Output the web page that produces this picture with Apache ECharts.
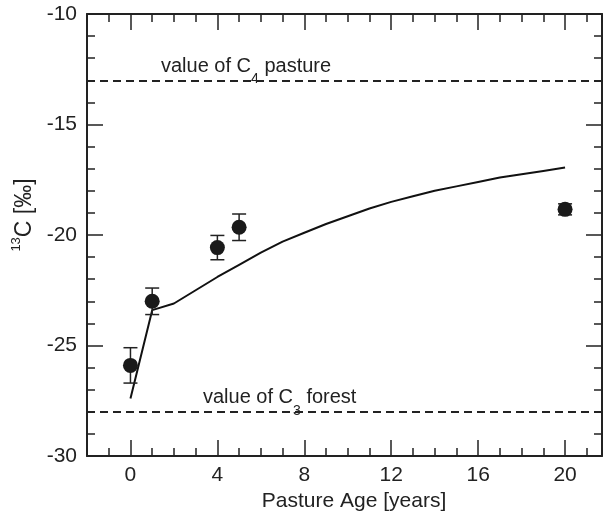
<!DOCTYPE html>
<html><head><meta charset="utf-8">
<script src="https://cdn.jsdelivr.net/npm/echarts@6/dist/echarts.min.js"></script>
<style>html,body{margin:0;padding:0;background:#fff}#c{width:607px;height:516px}</style>
</head><body><div id="c"></div>
<script>
// ---- data ----
const pointAges   = [0, 1, 4, 5, 20];
const pointMeans  = [-25.9, -23.0, -20.57, -19.65, -18.84];
const pointErrors = [0.8, 0.6, 0.55, 0.6, 0.25];

const curveAges   = [0, 1, 2, 3, 4, 5, 6, 7, 8, 9, 10, 11, 12, 13, 14, 15, 16, 17, 18, 19, 20];
const curveValues = [-27.4, -23.4, -23.1, -22.5, -21.9, -21.35, -20.8, -20.3, -19.9, -19.5, -19.15,
                     -18.8, -18.5, -18.25, -18.0, -17.8, -17.6, -17.4, -17.25, -17.1, -16.95];

const c4Pasture = -13;
const c3Forest  = -28;

const xMajorTicks = [0, 4, 8, 12, 16, 20];
const xMin = -2, xMax = 21.7;
const yMin = -30, yMax = -10;

// ---- styling ----
const FONT = 'Liberation Sans, Arial, Helvetica, sans-serif';
const INK = '#222';
const chart = echarts.init(document.getElementById('c'), null, {renderer: 'canvas'});

function xAx(pos, major, withLabel) {
  const ax = {
    type: 'value', position: pos, min: xMin, max: xMax, interval: 1,
    splitLine: {show: false},
    axisLine: {show: !major, onZero: false, lineStyle: {color: INK, width: 2}},
    axisTick: {show: true, inside: true, length: major ? 16 : 8, lineStyle: {color: INK, width: 1.5}},
    axisLabel: {show: false}
  };
  if (major) ax.axisTick.customValues = xMajorTicks;
  if (withLabel) {
    ax.axisLabel = {show: true, customValues: xMajorTicks, fontSize: 21, color: INK, margin: 9, fontFamily: FONT};
    ax.name = 'Pasture Age [years]';
    ax.nameLocation = 'middle';
    ax.nameGap = 26;
    ax.nameTextStyle = {fontSize: 21, color: INK, fontFamily: FONT, padding: [0, 0, 0, 19]};
  }
  return ax;
}
function yAx(pos, withLabel) {
  const ax = {
    type: 'value', position: pos, min: yMin, max: yMax, interval: 5,
    splitLine: {show: false},
    axisLine: {show: true, onZero: false, lineStyle: {color: INK, width: 2}},
    axisTick: {show: true, inside: true, length: 16, lineStyle: {color: INK, width: 1.5}},
    minorTick: {show: true, splitNumber: 5, length: 8, lineStyle: {color: INK, width: 1.5}},
    axisLabel: {show: withLabel, fontSize: 21, color: INK, margin: 10, fontFamily: FONT}
  };
  if (withLabel) {
    ax.name = '{sup|13}{n|C [‰]}';
    ax.nameLocation = 'middle';
    ax.nameRotate = 90;
    ax.nameGap = 47;
    ax.nameTextStyle = {
      color: INK, fontFamily: FONT, padding: [0, 0, 0, 40],
      rich: {
        sup: {fontSize: 13, color: INK, fontFamily: FONT, verticalAlign: 'top', lineHeight: 14},
        n: {fontSize: 23, color: INK, fontFamily: FONT, lineHeight: 28}
      }
    };
  }
  return ax;
}

const labelRich = {
  t: {fontSize: 20, color: INK, fontFamily: FONT, lineHeight: 24},
  s: {fontSize: 14, color: INK, fontFamily: FONT, lineHeight: 14, padding: [26, 0, 0, 0]}
};

chart.setOption({
  animation: false,
  backgroundColor: '#fff',
  grid: {left: 87, right: 5, top: 14, bottom: 60, containLabel: false, outerBoundsMode: 'none'},
  xAxis: [xAx('bottom', false, true), xAx('bottom', true, false), xAx('top', false, false), xAx('top', true, false)],
  yAxis: [yAx('left', true), yAx('right', false)],
  series: [
    {
      type: 'line', xAxisIndex: 0, yAxisIndex: 0,
      data: curveAges.map((a, i) => [a, curveValues[i]]),
      showSymbol: false, symbol: 'none',
      lineStyle: {color: '#111', width: 2},
      z: 3,
      markLine: {
        silent: true, symbol: 'none', animation: false,
        lineStyle: {type: [8, 5], color: INK, width: 2},
        data: [
          {yAxis: c4Pasture, label: {show: true, position: 'insideStartTop', distance: [74, 2],
            formatter: '{t|value of C}{s|4}{t| pasture}', rich: labelRich}},
          {yAxis: c3Forest, label: {show: true, position: 'insideStartTop', distance: [116, 2],
            formatter: '{t|value of C}{s|3}{t| forest}', rich: labelRich}}
        ]
      }
    },
    {
      type: 'custom', xAxisIndex: 0, yAxisIndex: 0, z: 4,
      data: pointAges.map((a, i) => [a, pointMeans[i] - pointErrors[i], pointMeans[i] + pointErrors[i]]),
      encode: {x: 0, y: [1, 2]},
      renderItem: function (params, api) {
        const x = api.value(0);
        const lo = api.coord([x, api.value(1)]);
        const hi = api.coord([x, api.value(2)]);
        const hw = 7;
        const st = {stroke: INK, lineWidth: 1.5};
        return {type: 'group', children: [
          {type: 'line', shape: {x1: lo[0], y1: lo[1], x2: hi[0], y2: hi[1]}, style: st},
          {type: 'line', shape: {x1: lo[0] - hw, y1: lo[1], x2: lo[0] + hw, y2: lo[1]}, style: st},
          {type: 'line', shape: {x1: hi[0] - hw, y1: hi[1], x2: hi[0] + hw, y2: hi[1]}, style: st}
        ]};
      }
    },
    {
      type: 'scatter', xAxisIndex: 0, yAxisIndex: 0, z: 5,
      data: pointAges.map((a, i) => [a, pointMeans[i]]),
      symbol: 'circle', symbolSize: 15,
      itemStyle: {color: '#1a1a1a', opacity: 1}
    }
  ]
});
</script>
</body></html>
